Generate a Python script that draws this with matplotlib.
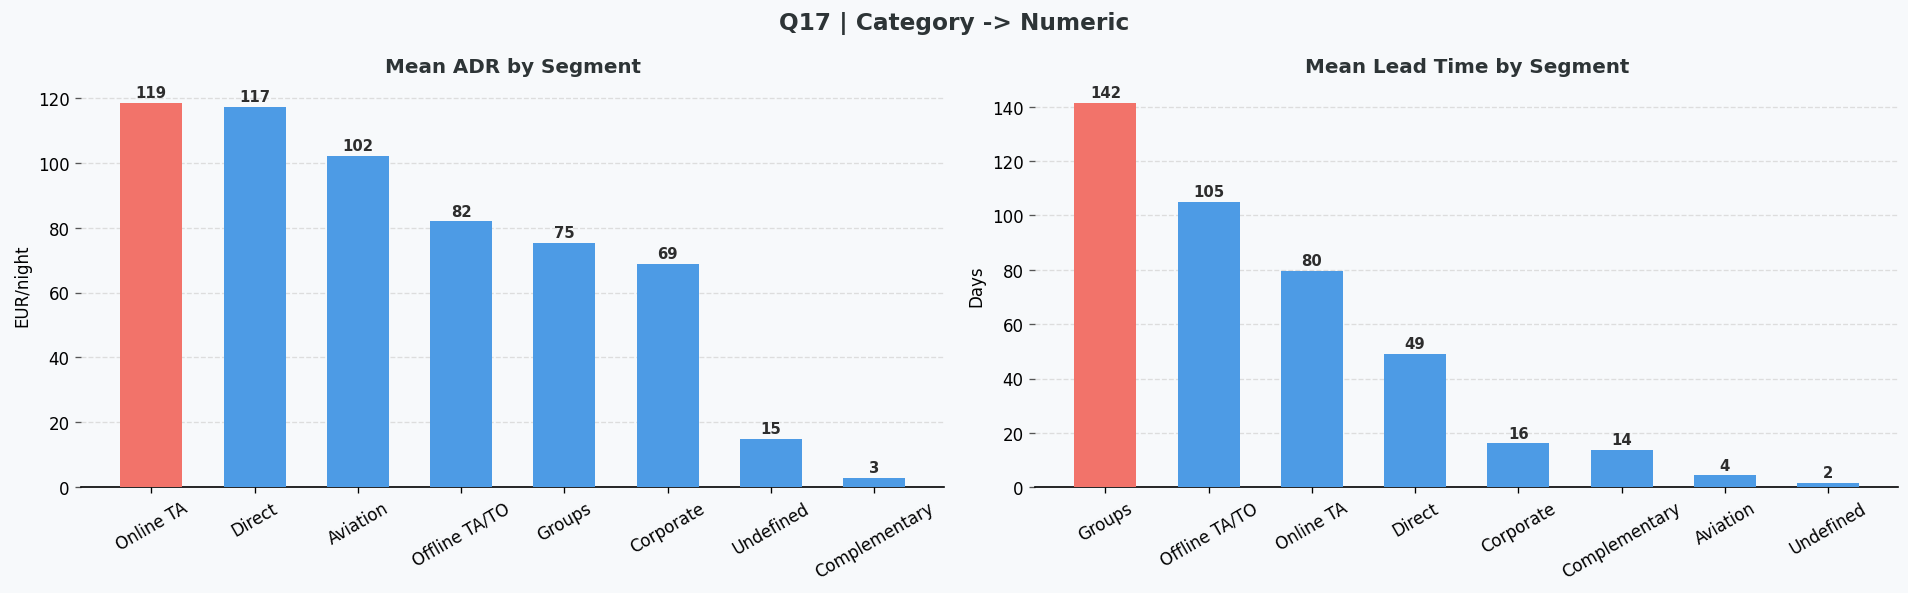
import matplotlib
matplotlib.use("Agg")
import matplotlib.pyplot as plt
import numpy as np

# Data
adr_segments = ["Online TA", "Direct", "Aviation", "Offline TA/TO", "Groups",
                "Corporate", "Undefined", "Complementary"]
adr_values = [118.5, 117.3, 102.1, 82.0, 75.3, 68.8, 15.0, 3.0]
adr_labels = ["119", "117", "102", "82", "75", "69", "15", "3"]

lead_segments = ["Groups", "Offline TA/TO", "Online TA", "Direct", "Corporate",
                 "Complementary", "Aviation", "Undefined"]
lead_values = [141.5, 105.0, 79.7, 49.2, 16.2, 13.9, 4.4, 1.6]
lead_labels = ["142", "105", "80", "49", "16", "14", "4", "2"]

bg = "#f7f9fb"
red = "#f2736a"
blue = "#4d9be5"

fig, axes = plt.subplots(1, 2, figsize=(16, 4.98), dpi=119.25)
fig.patch.set_facecolor(bg)


def draw(ax, cats, vals, labels, title, ylabel):
    ax.set_facecolor(bg)
    x = np.arange(len(cats))
    colors = [red] + [blue] * (len(cats) - 1)
    bars = ax.bar(x, vals, width=0.6, color=colors, zorder=3)
    for b, lab in zip(bars, labels):
        ax.annotate(lab, (b.get_x() + b.get_width() / 2, b.get_height()),
                    xytext=(0, 1.5), textcoords="offset points",
                    ha="center", va="bottom", fontsize=9, fontweight="bold",
                    color="#2d2d2d")
    ax.set_xticks(x)
    ax.set_xticklabels(cats, rotation=30, ha="center", fontsize=10)
    ax.set_title(title, fontsize=12, fontweight="bold", color="#2d3436", pad=7)
    ax.set_ylabel(ylabel, fontsize=10)
    ax.tick_params(axis="y", labelsize=10, color="#555555")
    ax.grid(axis="y", linestyle="--", color="#dddddd", linewidth=0.8, zorder=0)
    for s in ["top", "right", "left"]:
        ax.spines[s].set_visible(False)
    ax.spines["bottom"].set_linewidth(1.0)


draw(axes[0], adr_segments, adr_values, adr_labels, "Mean ADR by Segment", "EUR/night")
draw(axes[1], lead_segments, lead_values, lead_labels, "Mean Lead Time by Segment", "Days")

fig.suptitle("Q17 | Category -> Numeric", fontsize=14, fontweight="bold",
             color="#2d3436", y=0.98)
fig.subplots_adjust(left=0.0425, right=0.995, top=0.858, bottom=0.178, wspace=0.105)

fig.savefig("out.png", facecolor=bg)
